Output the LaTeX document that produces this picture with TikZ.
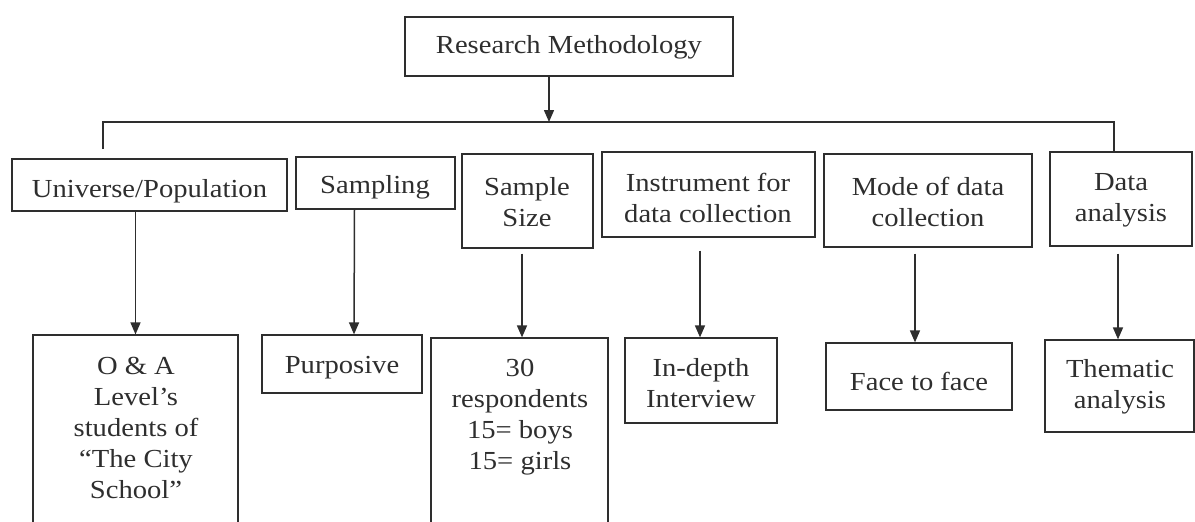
\documentclass[tikz,border=0pt]{standalone}
\usepackage{fontspec}
\setmainfont{Liberation Serif}[FakeStretch=1.1]
\usetikzlibrary{arrows.meta,fit}
\definecolor{ink}{HTML}{2E2E2E}
\begin{document}
\begin{tikzpicture}[x=0.5pt,y=-0.5pt,
  box/.style={draw=ink, line width=0.6pt, inner sep=0pt},
  lbl/.style={text=ink, inner sep=0pt, align=center, anchor=base, font=\fontsize{13pt}{15.5pt}\selectfont},
  conn/.style={draw=ink, line width=0.75pt},
  arr/.style={conn, -{Triangle[length=6pt,width=5pt]}}]
\clip (0,0) rectangle (1195,521);
% boxes
\node[box, fit={(405,17) (733,76)}] (rm) {};
\node[box, fit={(12,159) (287,211)}] (uni) {};
\node[box, fit={(296,157) (455,209)}] (samp) {};
\node[box, fit={(462,154) (593,248)}] (size) {};
\node[box, fit={(602,152) (815,237)}] (inst) {};
\node[box, fit={(824,154) (1032,247)}] (mode) {};
\node[box, fit={(1050,152) (1192,246)}] (ana) {};
\node[box, fit={(33,335) (238,560)}] (oa) {};
\node[box, fit={(262,335) (422,393)}] (purp) {};
\node[box, fit={(431,338) (608,560)}] (resp) {};
\node[box, fit={(625,338) (777,423)}] (indepth) {};
\node[box, fit={(826,343) (1012,410)}] (face) {};
\node[box, fit={(1045,340) (1194,432)}] (them) {};
% texts (anchor = baseline of the last line)
\node[lbl] (t1) at (569,53) {Research Methodology};
\node[lbl] (t2) at (149.5,197) {Universe/Population};
\node[lbl] (t3) at (375,193) {Sampling};
\node[lbl] (t4) at (527,226) {Sample\\Size};
\node[lbl] (t5) at (708,222) {Instrument for\\data collection};
\node[lbl] (t6) at (928,226) {Mode of data\\collection};
\node[lbl] (t7) at (1121,221) {Data\\analysis};
\node[lbl] (t8) at (136,498) {O \& A\\Level’s\\students of\\“The City\\School”};
\node[lbl] (t9) at (342,373) {Purposive};
\node[lbl] (t10) at (520,469) {30\\respondents\\15= boys\\15= girls};
\node[lbl] (t11) at (701,407) {In-depth\\Interview};
\node[lbl] (t12) at (919,390) {Face to face};
\node[lbl] (t13) at (1120,408) {Thematic\\analysis};
% bus
\coordinate (busA) at (549,122);
\coordinate (busL) at (103,122);
\coordinate (busR) at (1114,122);
\coordinate (uniT) at (103,149);
\draw[arr] (rm.south -| busA) -- (busA);
\draw[conn] (uniT) -- (busL) -- (busR) -- (busR |- ana.north);
% down arrows
\draw[arr] (uni.south -| oa.north) -- (oa.north);
\draw[arr] ([xshift=-10.5pt]samp.south) -- ([xshift=6pt]purp.north);
\draw[arr] ([xshift=-2.75pt,yshift=-2.5pt]size.south) -- ([xshift=1.25pt]resp.north);
\draw[arr] ([xshift=-4.25pt,yshift=-6.5pt]inst.south) -- ([xshift=-0.5pt]indepth.north);
\draw[arr] ([xshift=-6.5pt,yshift=-3pt]mode.south) -- ([xshift=-2pt]face.north);
\draw[arr] ([xshift=-1.5pt,yshift=-3.5pt]ana.south) -- ([xshift=-0.75pt]them.north);
\end{tikzpicture}
\end{document}
